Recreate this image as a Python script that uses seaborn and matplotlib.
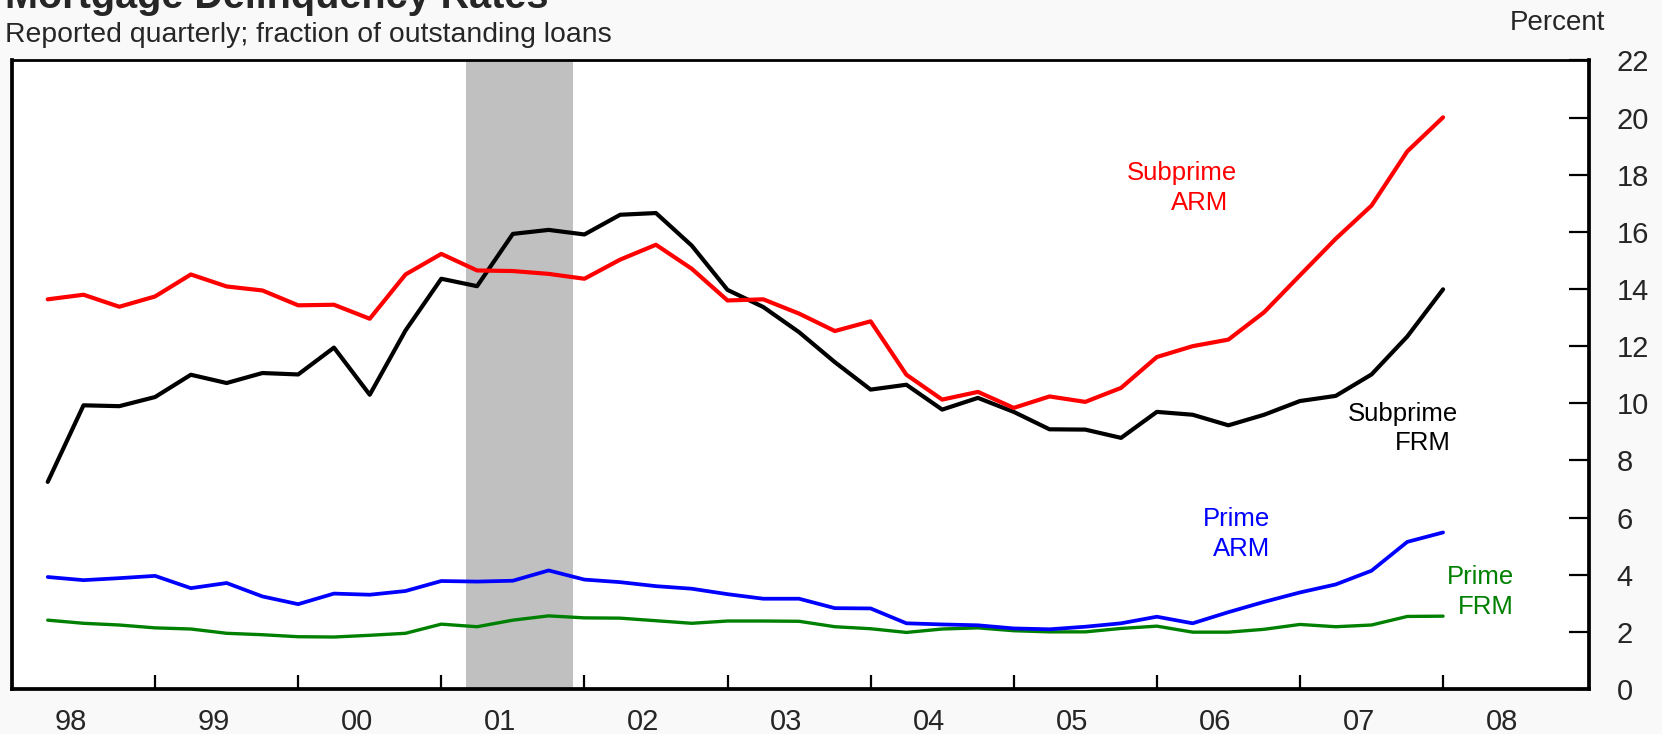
import matplotlib
matplotlib.use("Agg")
import numpy as np
import pandas as pd
import seaborn as sns
from matplotlib import pyplot as plt

# quarterly, 1998Q1 .. 2007Q4 (plotted at quarter end)
quarters = [1998.25 + 0.25 * i for i in range(40)]

subprime_frm = [7.25, 9.93, 9.90, 10.22, 11.00, 10.71, 11.06, 11.01, 11.95, 10.30,
                12.55, 14.36, 14.10, 15.93, 16.07, 15.91, 16.60, 16.66, 15.52, 13.97,
                13.37, 12.49, 11.44, 10.48, 10.65, 9.78, 10.19, 9.70, 9.09, 9.08,
                8.79, 9.70, 9.60, 9.23, 9.60, 10.08, 10.26, 11.01, 12.34, 13.99]
subprime_arm = [13.64, 13.80, 13.38, 13.74, 14.51, 14.09, 13.95, 13.43, 13.45, 12.96,
                14.51, 15.23, 14.65, 14.63, 14.53, 14.36, 15.03, 15.55, 14.71, 13.60,
                13.64, 13.14, 12.53, 12.87, 11.00, 10.13, 10.40, 9.84, 10.24, 10.05,
                10.54, 11.62, 12.00, 12.23, 13.19, 14.48, 15.76, 16.92, 18.82, 20.01]
prime_arm = [3.92, 3.81, 3.88, 3.96, 3.53, 3.71, 3.24, 2.97, 3.34, 3.30,
             3.43, 3.78, 3.76, 3.79, 4.15, 3.83, 3.74, 3.60, 3.51, 3.32,
             3.16, 3.16, 2.83, 2.82, 2.30, 2.26, 2.23, 2.12, 2.09, 2.18,
             2.30, 2.53, 2.30, 2.69, 3.05, 3.38, 3.66, 4.14, 5.15, 5.48]
prime_frm = [2.41, 2.30, 2.24, 2.14, 2.10, 1.95, 1.90, 1.83, 1.82, 1.88,
             1.95, 2.27, 2.18, 2.41, 2.56, 2.49, 2.48, 2.39, 2.30, 2.38,
             2.38, 2.37, 2.18, 2.11, 1.98, 2.10, 2.14, 2.04, 2.00, 2.00,
             2.12, 2.20, 1.99, 1.99, 2.09, 2.26, 2.18, 2.24, 2.54, 2.55]

years = list(range(1998, 2009))
year_labels = ['98', '99', '00', '01', '02', '03', '04', '05', '06', '07', '08']
recession = (2001.17, 2001.92)

sns.set_style('white')
plt.rcParams['font.family'] = ['Liberation Sans', 'DejaVu Sans']

fig = plt.figure(figsize=(16.62, 7.34), dpi=100, facecolor='#f9f9f9')
ax = fig.add_axes([0.0072, 0.0613, 0.9489, 0.8563])
ax.set_facecolor('white')

ax.axvspan(recession[0], recession[1], color='#c0c0c0', lw=0, zorder=0)

sns.lineplot(x=quarters, y=prime_frm, color='#008000', lw=2.4, ax=ax)
sns.lineplot(x=quarters, y=prime_arm, color='#0000ff', lw=2.7, ax=ax)
sns.lineplot(x=quarters, y=subprime_frm, color='black', lw=3.0, ax=ax)
sns.lineplot(x=quarters, y=subprime_arm, color='#ff0000', lw=3.0, ax=ax)

ax.set_xlim(1998.0, 2009.02)
ax.set_ylim(0, 22)

# year boundaries as ticks, labels in the middle of each year
ax.set_xticks(years[1:])
ax.set_xticklabels([])
ax.set_xticks([y + 0.41 for y in years], minor=True)
ax.set_xticklabels(year_labels, minor=True)
ax.tick_params(axis='x', which='major', direction='in', length=10, width=1.6,
               color='black', bottom=True)
ax.tick_params(axis='x', which='minor', length=0, pad=14, labelsize=21)

ax.yaxis.tick_right()
ax.set_yticks(range(0, 23, 2))
ax.tick_params(axis='y', direction='in', length=14.4, width=1.6, color='black',
               pad=20, labelsize=21)

for s in ax.spines.values():
    s.set_visible(True)
    s.set_color('black')
    s.set_linewidth(2.7)
ax.spines['top'].set_linewidth(2.0)

ax.set_xlabel('')
ax.set_ylabel('')

kw = dict(ha='center', va='baseline', fontsize=18.5)
ax.text(2006.175, 17.80, 'Subprime', color='#ff0000', **kw)
ax.text(2006.30, 16.75, 'ARM', color='#ff0000', **kw)
ax.text(2007.72, 9.38, 'Subprime', color='black', **kw)
ax.text(2007.86, 8.36, 'FRM', color='black', **kw)
ax.text(2006.56, 5.71, 'Prime', color='#0000ff', **kw)
ax.text(2006.59, 4.66, 'ARM', color='#0000ff', **kw)
ax.text(2008.26, 3.67, 'Prime', color='#008000', **kw)
ax.text(2008.30, 2.61, 'FRM', color='#008000', **kw)

fig.text(0.003, 1 - 8 / 734, 'Mortgage Delinquency Rates', fontsize=28.5,
         fontweight='bold', va='baseline', ha='left')
fig.text(0.003, 1 - 41.7 / 734, 'Reported quarterly; fraction of outstanding loans',
         fontsize=20.4, va='baseline', ha='left')
fig.text(1605 / 1662, 1 - 30 / 734, 'Percent', fontsize=20, va='baseline', ha='right')

fig.savefig('out.png', dpi=100, facecolor=fig.get_facecolor())
